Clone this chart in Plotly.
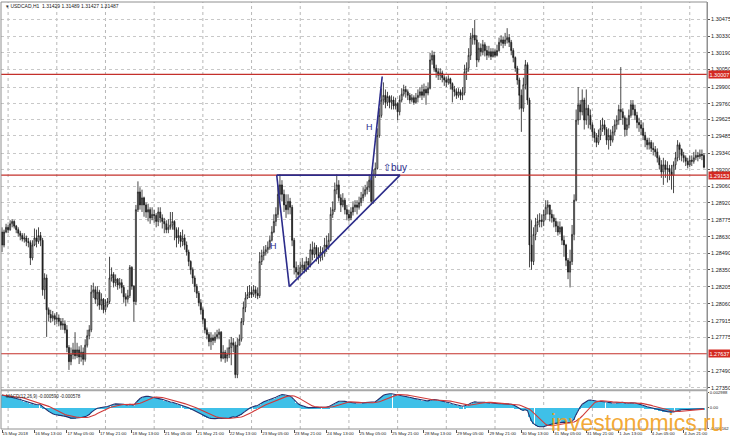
import plotly.graph_objects as go
import pandas as pd
import numpy as np

# ---------------- data (USDCAD H1) ----------------
first_open = 1.2867
close = [
1.2856,1.2867,1.2871,1.2869,1.2874,1.2876,1.2872,1.2869,1.2866,1.2864,
1.2861,1.2862,1.2859,1.2858,1.2845,1.2856,1.2862,1.2859,1.2864,1.2860,
1.2818,1.2828,1.2801,1.2797,1.2794,1.2796,1.2793,1.2794,1.2791,1.2788,
1.2789,1.2784,1.2769,1.2757,1.2763,1.2767,1.2762,1.2767,1.2761,1.2765,
1.2759,1.2771,1.2779,1.2784,1.2816,1.2818,1.2810,1.2816,1.2805,1.2810,
1.2801,1.2805,1.2808,1.2828,1.2831,1.2824,1.2827,1.2822,1.2824,1.2820,
1.2812,1.2810,1.2813,1.2837,1.2821,1.2808,1.2886,1.2901,1.2890,1.2896,
1.2890,1.2884,1.2886,1.2879,1.2882,1.2881,1.2876,1.2884,1.2879,1.2876,
1.2874,1.2869,1.2871,1.2873,1.2876,1.2869,1.2862,1.2864,1.2859,1.2862,
1.2856,1.2850,1.2842,1.2835,1.2828,1.2821,1.2815,1.2807,1.2801,1.2793,
1.2784,1.2780,1.2774,1.2777,1.2775,1.2778,1.2780,1.2782,1.2760,1.2765,
1.2760,1.2763,1.2769,1.2773,1.2771,1.2746,1.2771,1.2776,1.2791,1.2803,
1.2811,1.2814,1.2816,1.2814,1.2818,1.2815,1.2813,1.2842,1.2847,1.2850,
1.2852,1.2854,1.2860,1.2867,1.2876,1.2882,1.2899,1.2907,1.2899,1.2890,
1.2886,1.2893,1.2888,1.2860,1.2837,1.2833,1.2831,1.2837,1.2839,1.2835,
1.2842,1.2839,1.2852,1.2848,1.2854,1.2848,1.2845,1.2850,1.2849,1.2856,
1.2854,1.2860,1.2882,1.2886,1.2903,1.2907,1.2896,1.2890,1.2894,1.2886,
1.2882,1.2879,1.2884,1.2888,1.2890,1.2888,1.2892,1.2896,1.2899,1.2903,
1.2905,1.2911,1.2893,1.2916,1.2921,1.2949,1.2966,1.2979,1.2983,1.2977,
1.2982,1.2977,1.2979,1.2974,1.2976,1.2969,1.2979,1.2984,1.2988,1.2986,
1.2983,1.2979,1.2981,1.2977,1.2981,1.2983,1.2986,1.2983,1.2988,1.2985,
1.2989,1.3013,1.3017,1.3006,1.3003,1.3000,1.3002,1.2998,1.2996,1.2994,
1.2997,1.2993,1.2988,1.2986,1.2983,1.2986,1.2983,1.2985,1.3003,1.3006,
1.3017,1.3032,1.3034,1.3030,1.3013,1.3023,1.3020,1.3026,1.3021,1.3017,
1.3020,1.3016,1.3020,1.3017,1.3021,1.3028,1.3030,1.3027,1.3030,1.3032,
1.3028,1.3021,1.3015,1.3006,1.2996,1.2983,1.2972,1.2992,1.3009,1.2979,
1.2856,1.2842,1.2865,1.2873,1.2876,1.2877,1.2876,1.2882,1.2888,1.2890,
1.2882,1.2879,1.2876,1.2872,1.2867,1.2871,1.2860,1.2856,1.2843,1.2833,
1.2842,1.2865,1.2894,1.2962,1.2975,1.2969,1.2979,1.2962,1.2972,1.2966,
1.2958,1.2952,1.2947,1.2943,1.2949,1.2955,1.2958,1.2954,1.2945,1.2949,
1.2945,1.2952,1.2958,1.2962,1.2971,1.2969,1.2964,1.2954,1.2958,1.2966,
1.2975,1.2971,1.2966,1.2960,1.2958,1.2955,1.2949,1.2945,1.2941,1.2943,
1.2938,1.2937,1.2935,1.2930,1.2924,1.2918,1.2924,1.2920,1.2921,1.2918,
1.2915,1.2924,1.2930,1.2941,1.2937,1.2932,1.2930,1.2927,1.2924,1.2928,
1.2927,1.2930,1.2932,1.2931,1.2933,1.2932,1.2922]

high = [
1.2871,1.2869,1.2874,1.2873,1.2877,1.2878,1.2877,1.2873,1.2871,1.2868,
1.2866,1.2866,1.2864,1.2862,1.2860,1.2860,1.2870,1.2869,1.2871,1.2867,
1.2862,1.2832,1.2831,1.2803,1.2801,1.2800,1.2798,1.2799,1.2797,1.2794,
1.2794,1.2792,1.2788,1.2771,1.2769,1.2773,1.2782,1.2773,1.2770,1.2771,
1.2769,1.2776,1.2784,1.2788,1.2822,1.2824,1.2821,1.2821,1.2818,1.2815,
1.2811,1.2810,1.2811,1.2846,1.2837,1.2833,1.2831,1.2828,1.2828,1.2827,
1.2822,1.2815,1.2818,1.2839,1.2838,1.2822,1.2890,1.2910,1.2905,1.2903,
1.2897,1.2892,1.2891,1.2888,1.2888,1.2886,1.2883,1.2888,1.2888,1.2882,
1.2879,1.2877,1.2878,1.2884,1.2884,1.2877,1.2871,1.2871,1.2867,1.2869,
1.2865,1.2859,1.2852,1.2843,1.2837,1.2830,1.2823,1.2817,1.2810,1.2803,
1.2794,1.2786,1.2782,1.2782,1.2780,1.2782,1.2784,1.2785,1.2783,1.2771,
1.2767,1.2769,1.2776,1.2778,1.2777,1.2774,1.2777,1.2780,1.2794,1.2808,
1.2816,1.2821,1.2822,1.2821,1.2822,1.2821,1.2820,1.2850,1.2852,1.2855,
1.2856,1.2859,1.2864,1.2872,1.2882,1.2888,1.2907,1.2916,1.2911,1.2903,
1.2899,1.2899,1.2896,1.2890,1.2862,1.2842,1.2839,1.2842,1.2845,1.2842,
1.2846,1.2845,1.2857,1.2859,1.2858,1.2856,1.2854,1.2855,1.2854,1.2862,
1.2864,1.2866,1.2888,1.2893,1.2909,1.2916,1.2911,1.2899,1.2900,1.2896,
1.2890,1.2886,1.2888,1.2893,1.2894,1.2894,1.2897,1.2901,1.2905,1.2907,
1.2910,1.2916,1.2915,1.2920,1.2926,1.2955,1.2972,1.2989,1.2994,1.2988,
1.2986,1.2983,1.2983,1.2982,1.2981,1.2977,1.2983,1.2989,1.2992,1.2991,
1.2988,1.2985,1.2984,1.2983,1.2985,1.2988,1.2990,1.2992,1.2993,1.2991,
1.2994,1.3019,1.3021,1.3020,1.3009,1.3006,1.3006,1.3004,1.3000,1.2999,
1.3000,1.2998,1.2994,1.2991,1.2989,1.2989,1.2988,1.2990,1.3009,1.3011,
1.3023,1.3036,1.3040,1.3047,1.3034,1.3028,1.3027,1.3030,1.3028,1.3025,
1.3025,1.3023,1.3023,1.3022,1.3026,1.3032,1.3034,1.3033,1.3036,1.3040,
1.3035,1.3030,1.3023,1.3016,1.3008,1.2998,1.2988,1.2998,1.3013,1.3011,
1.2981,1.2877,1.2871,1.2879,1.2882,1.2883,1.2882,1.2886,1.2894,1.2894,
1.2890,1.2886,1.2882,1.2879,1.2876,1.2876,1.2872,1.2864,1.2857,1.2845,
1.2852,1.2873,1.2899,1.2971,1.2990,1.2979,1.2988,1.2981,1.2988,1.2975,
1.2971,1.2960,1.2955,1.2951,1.2954,1.2962,1.2964,1.2962,1.2956,1.2955,
1.2954,1.2957,1.2962,1.2966,1.2975,1.3007,1.2972,1.2966,1.2964,1.2971,
1.2979,1.2979,1.2975,1.2969,1.2964,1.2962,1.2960,1.2952,1.2947,1.2947,
1.2945,1.2943,1.2940,1.2938,1.2932,1.2928,1.2930,1.2928,1.2927,1.2924,
1.2924,1.2927,1.2935,1.2945,1.2943,1.2938,1.2935,1.2932,1.2930,1.2932,
1.2932,1.2935,1.2937,1.2935,1.2937,1.2937,1.2934]

low = [
1.2850,1.2854,1.2866,1.2866,1.2868,1.2871,1.2870,1.2866,1.2863,1.2860,
1.2859,1.2858,1.2855,1.2854,1.2839,1.2843,1.2855,1.2854,1.2857,1.2855,
1.2813,1.2810,1.2778,1.2791,1.2790,1.2791,1.2788,1.2789,1.2787,1.2784,
1.2784,1.2781,1.2765,1.2750,1.2754,1.2759,1.2759,1.2760,1.2755,1.2757,
1.2754,1.2757,1.2769,1.2776,1.2782,1.2811,1.2806,1.2804,1.2801,1.2801,
1.2798,1.2799,1.2803,1.2806,1.2825,1.2820,1.2821,1.2818,1.2819,1.2815,
1.2807,1.2804,1.2807,1.2811,1.2818,1.2791,1.2805,1.2884,1.2886,1.2884,
1.2880,1.2879,1.2876,1.2874,1.2877,1.2875,1.2871,1.2872,1.2875,1.2870,
1.2866,1.2866,1.2866,1.2869,1.2869,1.2860,1.2854,1.2857,1.2854,1.2855,
1.2852,1.2847,1.2838,1.2831,1.2823,1.2816,1.2811,1.2804,1.2797,1.2789,
1.2781,1.2776,1.2770,1.2767,1.2771,1.2773,1.2776,1.2776,1.2757,1.2759,
1.2756,1.2757,1.2760,1.2754,1.2765,1.2743,1.2743,1.2771,1.2774,1.2788,
1.2799,1.2810,1.2811,1.2811,1.2812,1.2811,1.2810,1.2811,1.2839,1.2843,
1.2847,1.2849,1.2852,1.2859,1.2866,1.2872,1.2879,1.2894,1.2893,1.2884,
1.2879,1.2882,1.2882,1.2855,1.2831,1.2828,1.2826,1.2830,1.2833,1.2832,
1.2833,1.2835,1.2837,1.2843,1.2845,1.2842,1.2840,1.2842,1.2843,1.2846,
1.2850,1.2852,1.2859,1.2879,1.2884,1.2899,1.2893,1.2884,1.2888,1.2882,
1.2877,1.2876,1.2877,1.2881,1.2884,1.2882,1.2886,1.2889,1.2893,1.2897,
1.2899,1.2901,1.2890,1.2891,1.2913,1.2920,1.2947,1.2964,1.2975,1.2972,
1.2974,1.2972,1.2971,1.2971,1.2971,1.2962,1.2966,1.2977,1.2982,1.2981,
1.2979,1.2976,1.2977,1.2975,1.2976,1.2977,1.2981,1.2979,1.2981,1.2975,
1.2983,1.2988,1.3009,1.3003,1.2998,1.2996,1.2996,1.2994,1.2991,1.2990,
1.2992,1.2988,1.2977,1.2982,1.2980,1.2981,1.2979,1.2979,1.2983,1.2996,
1.3003,1.3013,1.3026,1.3026,1.3007,1.3011,1.3016,1.3017,1.3016,1.3013,
1.3015,1.3013,1.3015,1.3015,1.3016,1.3020,1.3025,1.3023,1.3025,1.3027,
1.3024,1.3017,1.3011,1.3003,1.2992,1.2971,1.2952,1.2969,1.2988,1.2975,
1.2837,1.2835,1.2839,1.2860,1.2867,1.2871,1.2871,1.2872,1.2877,1.2882,
1.2876,1.2875,1.2871,1.2867,1.2864,1.2865,1.2856,1.2846,1.2838,1.2827,
1.2820,1.2839,1.2860,1.2893,1.2958,1.2962,1.2966,1.2954,1.2958,1.2955,
1.2954,1.2947,1.2943,1.2939,1.2941,1.2945,1.2952,1.2949,1.2941,1.2937,
1.2940,1.2943,1.2949,1.2954,1.2958,1.2962,1.2958,1.2948,1.2949,1.2955,
1.2964,1.2966,1.2962,1.2955,1.2952,1.2949,1.2945,1.2939,1.2937,1.2937,
1.2935,1.2932,1.2931,1.2926,1.2920,1.2913,1.2907,1.2913,1.2909,1.2911,
1.2903,1.2900,1.2920,1.2927,1.2928,1.2927,1.2926,1.2923,1.2921,1.2922,
1.2923,1.2925,1.2928,1.2927,1.2929,1.2928,1.2921]

first_bar_time = "2018-05-15 21:00"

x_tick_times = ["2018-05-15 21:00", "2018-05-16 13:00", "2018-05-17 05:00", "2018-05-17 21:00",
                "2018-05-18 13:00", "2018-05-21 05:00", "2018-05-21 21:00", "2018-05-22 13:00",
                "2018-05-23 05:00", "2018-05-23 21:00", "2018-05-24 13:00", "2018-05-25 05:00",
                "2018-05-25 21:00", "2018-05-28 13:00", "2018-05-29 05:00", "2018-05-29 21:00",
                "2018-05-30 13:00", "2018-05-31 05:00", "2018-05-31 21:00", "2018-06-01 13:00",
                "2018-06-04 05:00", "2018-06-04 21:00"]
x_tick_labels = ["15 May 2018", "16 May 13:00", "17 May 05:00", "17 May 21:00", "18 May 13:00",
                 "21 May 05:00", "21 May 21:00", "22 May 13:00", "23 May 05:00", "23 May 21:00",
                 "24 May 13:00", "25 May 05:00", "25 May 21:00", "28 May 13:00", "29 May 05:00",
                 "29 May 21:00", "30 May 13:00", "31 May 05:00", "31 May 21:00", "1 Jun 13:00",
                 "4 Jun 05:00", "4 Jun 21:00"]

price_ticks = [1.30475, 1.30330, 1.30190, 1.30050, 1.29900, 1.29760, 1.29625, 1.29485,
               1.29340, 1.29200, 1.29060, 1.28920, 1.28775, 1.28630, 1.28490, 1.28350,
               1.28205, 1.28060, 1.27915, 1.27775, 1.27490, 1.27350]
price_range = [1.27338, 1.30622]

levels = [1.30007, 1.29153, 1.27637]

macd_ticks = [0.002988, 0.0, -0.004162]
macd_tick_labels = ["0.002988", "0.00", "-0.004162"]
macd_start = 0.0025
fast, slow, sig = 12, 26, 9

# trend-line drawings (bar time, price)
tri_top = [("2018-05-23 12:24", 1.29153), ("2018-05-28 01:12", 1.29153)]
tri_left = [("2018-05-23 12:24", 1.29153), ("2018-05-23 18:36", 1.28207)]
tri_right = [("2018-05-23 18:36", 1.28207), ("2018-05-28 01:12", 1.29153)]
impulse = [("2018-05-25 10:54", 1.29110), ("2018-05-25 16:24", 1.29990)]
h_labels = [("2018-05-23 11:00", 1.2855), ("2018-05-25 10:00", 1.2956)]
buy_label = ("2018-05-25 15:48", 1.2922)

# ---------------- build ----------------
n = len(close)
t = pd.date_range(first_bar_time, periods=n * 2, freq="h")
t = t[t.weekday < 5][:n]
idx = np.arange(n)


def tpos(s):
    ts = pd.Timestamp(s)
    base = ts.floor("h")
    k = int(np.searchsorted(t.values, base.to_datetime64()))
    frac = (ts - base) / pd.Timedelta("1h")
    return k + frac


open_ = [first_open] + close[:-1]

c = np.array(close)
ema_f = np.zeros(n)
ema_s = np.zeros(n)
ema_f[0] = c[0]
ema_s[0] = c[0] - macd_start
af, as_ = 2 / (fast + 1), 2 / (slow + 1)
for i in range(1, n):
    ema_f[i] = ema_f[i - 1] + af * (c[i] - ema_f[i - 1])
    ema_s[i] = ema_s[i - 1] + as_ * (c[i] - ema_s[i - 1])
macd = ema_f - ema_s
signal = pd.Series(macd).rolling(sig, min_periods=1).mean().values

W, H = 730, 443
ml, mr, mt, mb = 1, 23, 2, 14
ph = H - mt - mb


def py(px):  # pixel y -> paper y
    return (H - mb - px) / ph


NAVY = "#2c2c8a"
RED = "#c4302b"
FONT = "Liberation Sans"
NARROW = "Liberation Sans Narrow, Liberation Sans"

fig = go.Figure()
fig.add_trace(go.Candlestick(
    x=idx, open=open_, high=high, low=low, close=close,
    increasing=dict(line=dict(color="#1a1a1a", width=0.8), fillcolor="#ffffff"),
    decreasing=dict(line=dict(color="#1a1a1a", width=0.8), fillcolor="#1a1a1a"),
    whiskerwidth=0, xaxis="x", yaxis="y", hoverinfo="skip"))
fig.add_trace(go.Bar(x=idx, y=macd, marker=dict(color="#3fc0e8", line=dict(width=0)),
                     width=0.55, xaxis="x2", yaxis="y2", hoverinfo="skip"))
fig.add_trace(go.Scatter(x=idx, y=macd, mode="lines", line=dict(color="#26306e", width=1.1),
                         xaxis="x2", yaxis="y2", hoverinfo="skip"))
fig.add_trace(go.Scatter(x=idx, y=signal, mode="lines", line=dict(color="#d03a3a", width=1.1),
                         xaxis="x2", yaxis="y2", hoverinfo="skip"))

shapes = []
for i, ts in enumerate(t):
    if ts.hour == 0:
        shapes.append(dict(type="line", xref="x", yref="paper", x0=i, x1=i, y0=0, y1=1,
                           line=dict(color="#b8b8b8", width=1, dash="dot"), layer="below"))
for lv in levels:
    shapes.append(dict(type="line", xref="paper", yref="y", x0=0, x1=1, y0=lv, y1=lv,
                       line=dict(color=RED, width=1.2)))
for seg in (tri_top, tri_left, tri_right, impulse):
    (a, pa), (b, pb) = seg
    shapes.append(dict(type="line", xref="x", yref="y", x0=tpos(a), y0=pa, x1=tpos(b), y1=pb,
                       line=dict(color=NAVY, width=1.6)))
shapes.append(dict(type="rect", xref="paper", yref="paper", x0=0, x1=1, y0=py(391.3), y1=py(389.2),
                   fillcolor="#a8a8a8", line=dict(width=0)))
shapes.append(dict(type="rect", xref="paper", yref="paper", x0=0, x1=1, y0=0, y1=1,
                   line=dict(color="#909090", width=1), fillcolor="rgba(0,0,0,0)"))

ann = []
for lv in levels:
    ann.append(dict(xref="paper", yref="y", x=1.001, y=lv, xanchor="left", yanchor="middle",
                    text=f"{lv:.5f}", showarrow=False, bgcolor="#d42a22", borderpad=0.5,
                    font=dict(color="white", size=5.5, family=NARROW)))
for (a, p) in h_labels:
    ann.append(dict(xref="x", yref="y", x=tpos(a), y=p, text="H", showarrow=False,
                    font=dict(color=NAVY, size=9, family=FONT)))
ann.append(dict(xref="x", yref="y", x=tpos(buy_label[0]), y=buy_label[1], xanchor="left",
                text="⇧buy", showarrow=False, font=dict(color=NAVY, size=10, family=FONT)))
ann.append(dict(xref="paper", yref="paper", x=0.004, y=py(5.5), xanchor="left", yanchor="middle",
                text="▾ USDCAD,H1  1.31429 1.31489 1.31427 1.31487", showarrow=False,
                font=dict(color="#222", size=5, family=FONT)))
ann.append(dict(xref="paper", yref="paper", x=0.004, y=py(396), xanchor="left", yanchor="middle",
                text="MACD(12,26,9) -0.000590 -0.000578", showarrow=False,
                font=dict(color="#222", size=4.5, family=NARROW)))
ann.append(dict(xref="paper", yref="paper", x=(637 - ml) / (W - ml - mr), y=py(423),
                xanchor="center", yanchor="middle", text="investonomics.ru", showarrow=False,
                font=dict(color="rgba(242,160,28,0.9)", size=23, family=FONT)))

label_idx = [tpos(s) for s in x_tick_times]

fig.update_layout(
    width=W, height=H, margin=dict(l=ml, r=mr, t=mt, b=mb, autoexpand=False),
    paper_bgcolor="white", plot_bgcolor="white", showlegend=False,
    font=dict(family=FONT, color="#222"),
    xaxis=dict(domain=[0, 1], range=[-0.5, 347.5], anchor="y", showticklabels=False,
               showgrid=False, zeroline=False, rangeslider=dict(visible=False), ticks="",
               automargin=False),
    xaxis2=dict(domain=[0, 1], matches="x", anchor="y2", tickmode="array", tickvals=label_idx,
                ticktext=x_tick_labels, ticklabelposition="outside right", ticks="outside",
                ticklen=3, tickcolor="#555", tickangle=0,
                tickfont=dict(size=4.4, family=NARROW, color="#222"),
                showgrid=False, zeroline=False, automargin=False),
    yaxis=dict(domain=[py(389), 1], range=price_range, side="right", tickmode="array",
               tickvals=price_ticks, ticktext=[f"{v:.5f}" for v in price_ticks],
               tickfont=dict(size=5.5, family=NARROW, color="#222"), ticks="outside", ticklen=2,
               tickcolor="#555", showgrid=True, gridcolor="#c8c8c8", griddash="dot",
               zeroline=False, showline=True, linecolor="#909090", automargin=False),
    yaxis2=dict(domain=[py(428.5), py(392.5)], range=[macd_ticks[2], macd_ticks[0]], side="right",
                tickmode="array", tickvals=macd_ticks, ticktext=macd_tick_labels,
                tickfont=dict(size=4.2, family=NARROW, color="#222"), ticks="outside", ticklen=1,
                tickcolor="#555", showgrid=False, zeroline=False, showline=True,
                linecolor="#909090", automargin=False),
    shapes=shapes, annotations=ann, bargap=0,
)

fig.write_html("out.html", config={"displayModeBar": False},
               post_script="document.body.style.margin='0';document.body.style.padding='0';")
